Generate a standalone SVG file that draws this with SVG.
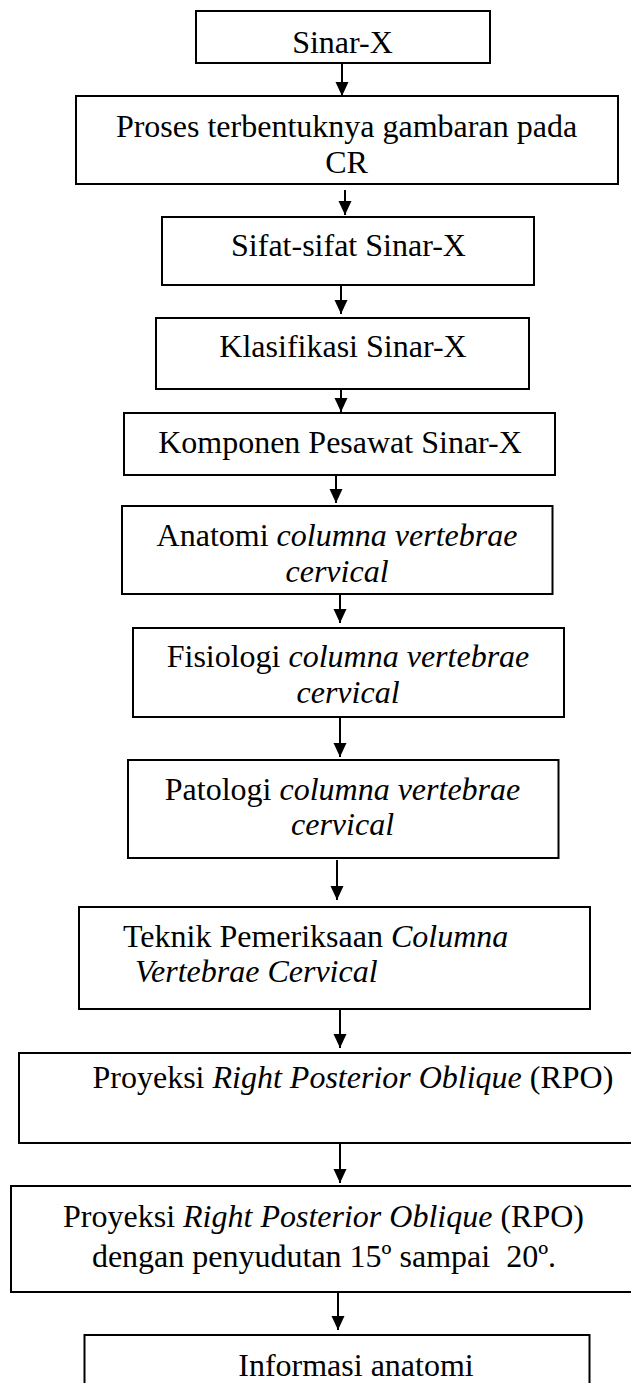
<svg xmlns="http://www.w3.org/2000/svg" width="631" height="1383" viewBox="0 0 631 1383">
<style>
.box{fill:#fff;stroke:#000;stroke-width:2}
.t{font-family:"Liberation Serif","Times New Roman",serif;font-size:32px;fill:#000;text-anchor:middle;white-space:pre}
.s{text-anchor:start}
.i{font-style:italic}
.c{stroke:#000;stroke-width:2;fill:none;marker-end:url(#ah)}
</style>
<defs>
<marker id="ah" markerUnits="userSpaceOnUse" markerWidth="15" markerHeight="14" refX="14" refY="6.5" orient="auto">
<path d="M0,0 L14,6.5 L0,13 z" fill="#000"/>
</marker>
</defs>
<rect width="631" height="1383" fill="#fff"/>
<g id="connectors">
<line class="c" x1="342" y1="63" x2="342" y2="96"/>
<line class="c" x1="345" y1="190" x2="345" y2="215"/>
<line class="c" x1="341" y1="285" x2="341" y2="314"/>
<line class="c" x1="341" y1="389" x2="341" y2="412"/>
<line class="c" x1="336" y1="475" x2="336" y2="503"/>
<line class="c" x1="340" y1="594" x2="340" y2="623"/>
<line class="c" x1="340" y1="717" x2="340" y2="757"/>
<line class="c" x1="337" y1="860" x2="337" y2="900"/>
<line class="c" x1="340" y1="1009" x2="340" y2="1048"/>
<line class="c" x1="340" y1="1143" x2="340" y2="1183"/>
<line class="c" x1="338" y1="1292" x2="338" y2="1330"/>
</g>
<g id="n1"><rect class="box" x="196" y="11" width="294" height="52"/><text class="t" x="342.5" y="53">Sinar-X</text></g>
<g id="n2"><rect class="box" x="76" y="96" width="542" height="88"/><text class="t" x="346.5" y="137">Proses terbentuknya gambaran pada</text><text class="t" x="346.5" y="173">CR</text></g>
<g id="n3"><rect class="box" x="162" y="217" width="372" height="68"/><text class="t" x="348.5" y="256">Sifat-sifat Sinar-X</text></g>
<g id="n4"><rect class="box" x="156" y="318" width="373" height="71"/><text class="t" x="343" y="357">Klasifikasi Sinar-X</text></g>
<g id="n5"><rect class="box" x="124" y="413" width="431" height="62"/><text class="t" x="340" y="453">Komponen Pesawat Sinar-X</text></g>
<g id="n6"><rect class="box" x="122" y="506" width="430.5" height="88"/><text class="t" x="337" y="546">Anatomi <tspan class="i">columna vertebrae</tspan></text><text class="t i" x="337" y="582">cervical</text></g>
<g id="n7"><rect class="box" x="133" y="628" width="431" height="89"/><text class="t" x="348" y="667">Fisiologi <tspan class="i">columna vertebrae</tspan></text><text class="t i" x="348" y="703">cervical</text></g>
<g id="n8"><rect class="box" x="128" y="760" width="430.5" height="98"/><text class="t" x="342.5" y="800">Patologi <tspan class="i">columna vertebrae</tspan></text><text class="t i" x="342.5" y="835">cervical</text></g>
<g id="n9"><rect class="box" x="79" y="907" width="511" height="102"/><text class="t s" x="123" y="947">Teknik Pemeriksaan <tspan class="i">Columna</tspan></text><text class="t s i" x="135" y="982">Vertebrae Cervical</text></g>
<g id="n10"><rect class="box" x="19" y="1053" width="625" height="90"/><text class="t s" x="92.5" y="1088">Proyeksi <tspan class="i">Right Posterior Oblique</tspan> (RPO)</text></g>
<g id="n11"><rect class="box" x="11" y="1186" width="633" height="106"/><text class="t" x="323.5" y="1227">Proyeksi <tspan class="i">Right Posterior Oblique</tspan> (RPO)</text><text class="t" x="324" y="1267">dengan penyudutan 15º sampai  20º.</text></g>
<g id="n12"><rect class="box" x="84.5" y="1335" width="505" height="70"/><text class="t" x="356" y="1376">Informasi anatomi</text></g>
</svg>
